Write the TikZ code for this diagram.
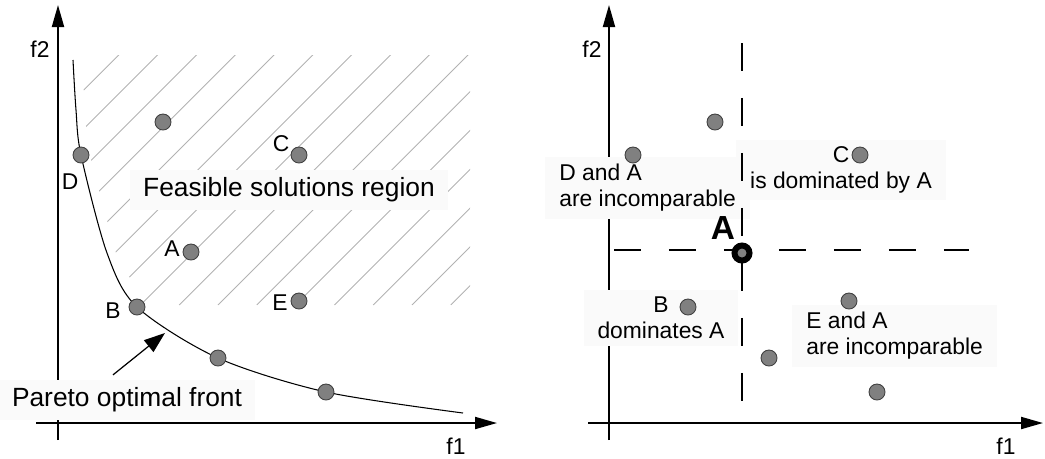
\documentclass[tikz,border=0pt]{standalone}
\usepackage{fontspec}
\setmainfont{Liberation Sans}
\usetikzlibrary{arrows.meta,positioning}
\tikzset{
  axisline/.style={line width=1.1pt, -{Triangle[length=0.44cm,width=0.24cm]}},
  sol/.style={circle, draw=black!75, line width=0.5pt, fill=black!50, minimum size=0.32cm, inner sep=0pt},
  best/.style={circle, draw=black, line width=3.4pt, fill=black!50, minimum size=0.3cm, inner sep=0pt},
  lbl/.style={font=\fontsize{13}{14.8}\selectfont, inner sep=0pt},
  note/.style={fill=black!2, font=\fontsize{13}{14.8}\selectfont, inner xsep=0.28cm, inner ysep=0.14cm},
  bignote/.style={fill=black!2, font=\fontsize{15}{17}\selectfont, inner xsep=0.26cm, inner ysep=0.15cm},
  hatchline/.style={black!30, line width=0.5pt},
  vdash/.style={line width=1pt, dash pattern=on 0.56cm off 0.54cm},
  hdash/.style={line width=0.7pt, dash pattern=on 0.54cm off 0.56cm},
  pointer/.style={line width=0.7pt, -{Triangle[length=0.42cm,width=0.3cm]}}
}
\begin{document}
\begin{tikzpicture}[x=0.02cm, y=-0.02cm]
  \useasboundingbox (0,0) rectangle (1045,458);

  %%%%% Left: Pareto front
  % hatched feasible region
  \begin{scope}
    \clip (82,55) -- (470,55) -- (470,305) -- (145,305)
      -- plot[smooth] coordinates {(116,253) (90,155) (85,110) (82,55)} -- cycle;
    \foreach \x in {-170,-131.2,...,470}
      \draw[hatchline] (\x,305) -- ++(260,-260);
  \end{scope}
  % axes
  \draw[axisline] (58,440) -- (58,5);
  \draw[axisline] (36,423) -- (497,423);
  \node[lbl] (f2L) at (40,49) {f2};
  \node[lbl] (f1L) at (456,446) {f1};
  % boxes
  \node[bignote] (nFeas) at (289,190) {Feasible solutions region};
  \node[bignote] (nPareto) at (127,400) {Pareto optimal front};
  % front
  \draw[line width=0.6pt] plot[smooth] coordinates
    {(73,60) (76,110) (81,155) (107,253) (137,307) (218,358) (326,392) (463,413)};
  \coordinate (front) at (165,333);
  \draw[pointer] ([xshift=-0.28cm,yshift=0.1cm]nPareto.north) -- (front);
  % solutions
  \node[sol] (p1) at (163,122) {};
  \node[sol] (pD) at (81,155) {};
  \node[sol] (pC) at (299,155) {};
  \node[sol] (pA) at (191,252) {};
  \node[sol] (pE) at (299,301) {};
  \node[sol] (pB) at (137,307) {};
  \node[sol] (p2) at (218,358) {};
  \node[sol] (p3) at (326,392) {};
  \node[lbl] (lC) at (281,144) {C};
  \node[lbl] (lD) at (70,182) {D};
  \node[lbl] (lA) at (172,249) {A};
  \node[lbl] (lE) at (280,303) {E};
  \node[lbl] (lB) at (113,311) {B};

  %%%%% Right: dominance
  % axes
  \draw[axisline] (609,440) -- (609,5);
  \draw[axisline] (588,423) -- (1043,423);
  \node[lbl] (f2R) at (592,49) {f2};
  \node[lbl] (f1R) at (1006,446) {f1};
  % boxes
  \node[note, anchor=west, align=left] (nDA) at (545,188) {D and A\\are incomparable};
  \node[note, align=center] (nC) at (841,170) {C\\is dominated by A};
  \node[note, align=center] (nB) at (661,318) {B\\dominates A};
  \node[note, anchor=west, align=left] (nEA) at (792,336) {E and A\\are incomparable};
  % quadrants
  \draw[vdash] (742,43) -- (742,402);
  \draw[hdash] (614,250) -- (969,250);
  % solutions
  \node[sol] (q1) at (715,122) {};
  \node[sol] (qD) at (633,155) {};
  \node[sol] (qC) at (860,155) {};
  \node[sol] (qB) at (688,307) {};
  \node[sol] (qE) at (849,301) {};
  \node[sol] (q2) at (769,358) {};
  \node[sol] (q3) at (877,392) {};
  \node[best] (qA) at (742,253) {};
  \node[font=\fontsize{19}{22}\selectfont\bfseries, inner sep=0pt] (lAR) at (723,228) {A};
\end{tikzpicture}
\end{document}
